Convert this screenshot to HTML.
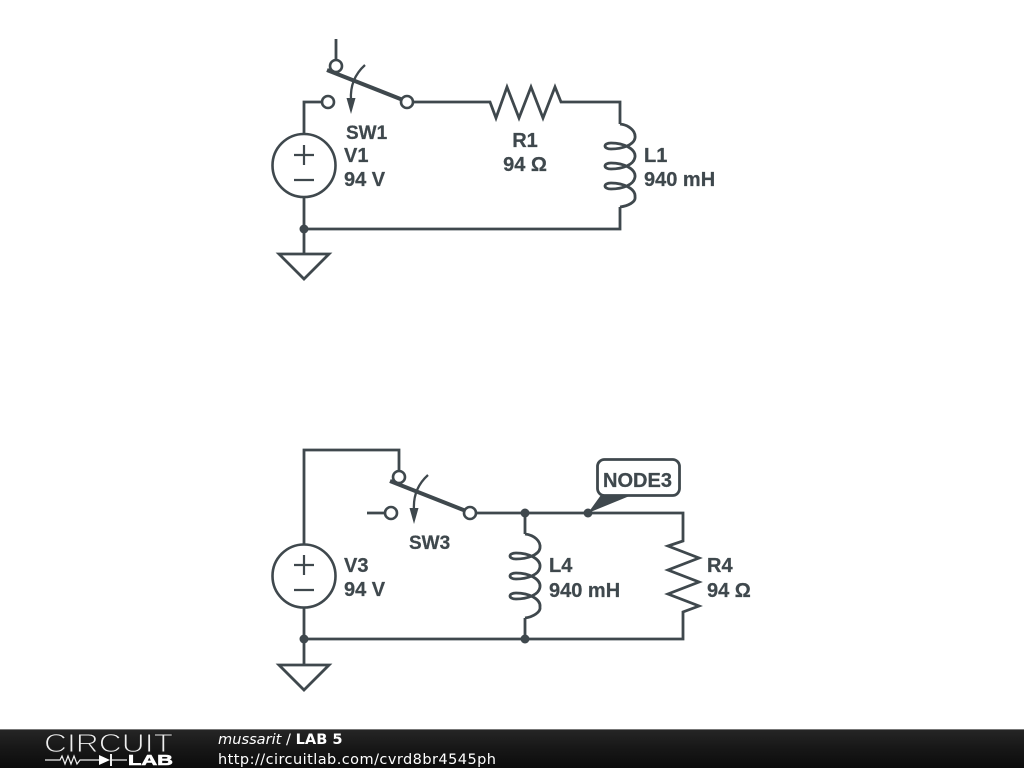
<!DOCTYPE html>
<html><head><meta charset="utf-8"><style>
html,body{margin:0;padding:0;background:#fff;width:1024px;height:768px;overflow:hidden}
svg{display:block}
.w{fill:none;stroke:#3f484d;stroke-width:2.8;stroke-linejoin:miter}
.c{fill:#fff;stroke:#3f484d;stroke-width:2.6}
.p{fill:none;stroke:#3f484d;stroke-width:2.200}
.t{font-family:"Liberation Sans",sans-serif;font-weight:bold;font-size:20px;fill:#3f484d;stroke:#3f484d;stroke-width:.25}
.s{font-size:19px}
</style></head><body>
<svg width="1024" height="768" viewBox="0 0 1024 768" xmlns="http://www.w3.org/2000/svg">
<defs>
<linearGradient id="g" x1="0" y1="0" x2="0" y2="1"><stop offset="0" stop-color="#262626"/><stop offset=".5" stop-color="#171717"/><stop offset="1" stop-color="#0c0c0c"/></linearGradient>
</defs>
<rect width="1024" height="768" fill="#fff"/>

<!-- top circuit -->
<path class="w" d="M336 39V60M322 102H304V134M304 197V254M304 229H620V207M413 102H490L496 118L507 87L519 118L531 87L543 118L555 87L561 102H620V124"/>
<path class="w" d="M620 124C629 125 636 131 635 138C634 145 622 149 611 149C603 149 603 143 611 143C624 143 636 149 635 157C634 165 622 169 611 169C603 169 603 163 611 163C624 163 636 169 635 177C634 185 622 189 611 189C603 189 603 183 611 183C624 183 636 189 635 197C636 202 628 206 620 207"/>
<path class="w" d="M279 254H329L304 279Z" style="fill:#fff"/>
<circle class="c" cx="304" cy="165.500" r="31.500"/>
<path class="p" d="M294 155H314M304 145V165M294 180H314"/>
<circle cx="304" cy="229" r="4.500" fill="#3f484d"/>
<circle class="c" cx="328" cy="102" r="6"/>
<circle class="c" cx="336" cy="66" r="6"/>
<path d="M327 70L403 100" fill="none" stroke="#3f484d" stroke-width="4"/>
<circle class="c" cx="407" cy="102" r="6"/>
<path d="M365 65C355 74 350 85 351 100" fill="none" stroke="#3f484d" stroke-width="2.300"/>
<path d="M346.500 98H355.500L351 114Z" fill="#3f484d"/>
<text class="t s" x="346" y="139">SW1</text>
<text class="t" x="344" y="162">V1</text>
<text class="t" x="344" y="186">94 V</text>
<text class="t" x="525" y="147" text-anchor="middle">R1</text>
<text class="t" x="525" y="171" text-anchor="middle">94 Ω</text>
<text class="t" x="644" y="162">L1</text>
<text class="t" x="644" y="186">940 mH</text>

<!-- bottom circuit -->
<path class="w" d="M304 544V450H399V472M367 513H385M476 513H683V541L668 546L699 558L668 570L699 582L668 594L699 606L683 612V639H304M304 608V665M525 513V534M525 618V639"/>
<path class="w" d="M525 534C534 535 541 541 540 548C539 555 527 559 516 559C508 559 508 553 516 553C529 553 541 559 540 567C539 575 527 579 516 579C508 579 508 573 516 573C529 573 541 579 540 587C539 595 527 599 516 599C508 599 508 593 516 593C529 593 541 599 540 607C541 612 533 617 525 618"/>
<path class="w" d="M279 665H329L304 690Z" style="fill:#fff"/>
<circle class="c" cx="304" cy="576" r="31.500"/>
<path class="p" d="M294 565H314M304 555V575M294 590H314"/>
<circle cx="304" cy="639" r="4.500" fill="#3f484d"/>
<circle cx="525" cy="639" r="4.500" fill="#3f484d"/>
<circle cx="525" cy="513" r="4.500" fill="#3f484d"/>
<circle cx="588" cy="513" r="4.500" fill="#3f484d"/>
<circle class="c" cx="391" cy="513" r="6"/>
<circle class="c" cx="399" cy="477" r="6"/>
<path d="M390 481L466 511" fill="none" stroke="#3f484d" stroke-width="4"/>
<circle class="c" cx="470" cy="513" r="6"/>
<path d="M428 475C418 484 413 495 414 510" fill="none" stroke="#3f484d" stroke-width="2.300"/>
<path d="M409.500 508H418.500L414 524Z" fill="#3f484d"/>
<path d="M588 513L601 495H632Z" fill="#3f484d"/>
<rect x="597.500" y="459.500" width="82" height="36" rx="7" fill="#fff" stroke="#3f484d" stroke-width="2.800"/>
<text class="t" x="637.500" y="487" text-anchor="middle">NODE3</text>
<text class="t s" x="409" y="549">SW3</text>
<text class="t" x="344" y="572">V3</text>
<text class="t" x="344" y="596">94 V</text>
<text class="t" x="549" y="572">L4</text>
<text class="t" x="549" y="597">940 mH</text>
<text class="t" x="707" y="572">R4</text>
<text class="t" x="707" y="597">94 Ω</text>

<!-- footer -->
<rect x="0" y="729" width="1024" height="39" fill="url(#g)"/>
<rect x="0" y="729" width="1024" height="1" fill="#777"/>
<text x="44" y="752" textLength="129" lengthAdjust="spacingAndGlyphs" font-family="'Liberation Sans',sans-serif" font-size="26" fill="#eee" stroke="#1c1c1c" stroke-width="1">CIRCUIT</text>
<path d="M45 760H60L62 756L65 764L68 756L71 764L74 756L77 764L80 760H99M112 760H127" fill="none" stroke="#eee" stroke-width="1.200"/>
<path d="M99 755L110 760L99 765Z" fill="#fff"/>
<path d="M111 754V766" stroke="#eee" stroke-width="2"/>
<text x="128" y="765" textLength="45" lengthAdjust="spacingAndGlyphs" font-family="'Liberation Sans',sans-serif" font-weight="bold" font-size="15" fill="#fff" stroke="#fff" stroke-width=".6">LAB</text>
<text x="218" y="744" font-family="'DejaVu Sans',sans-serif" font-size="14.600" fill="#fff"><tspan font-style="italic">mussarit</tspan> / <tspan font-weight="bold">LAB 5</tspan></text>
<text x="218" y="764" textLength="278" font-family="'DejaVu Sans',sans-serif" font-size="14.500" fill="#fff">http://circuitlab.com/cvrd8br4545ph</text>
</svg>
</body></html>
